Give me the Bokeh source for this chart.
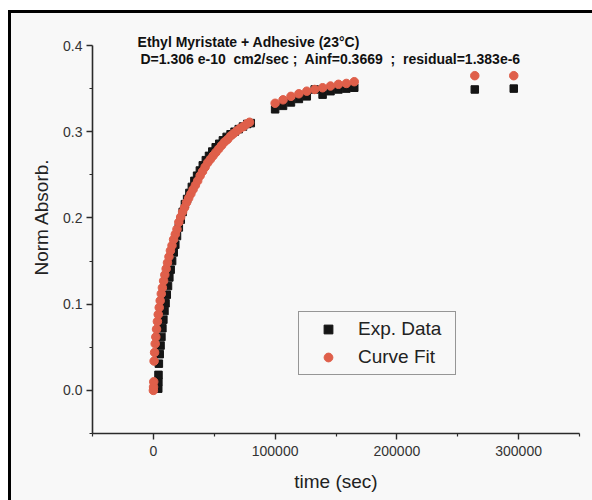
from bokeh.plotting import figure
from bokeh.models import (Range1d, FixedTicker, PrintfTickFormatter, Label, Legend,
                          LegendItem, ColumnDataSource)
from bokeh.embed import file_html
from bokeh.resources import INLINE

# ---------------- data ----------------
fit_time = [0, 150, 300, 600, 1000, 1500, 2000, 2600, 3300, 4000, 4800, 5600, 6500, 7400,
            8400, 9400, 10500, 11600, 12800, 14000, 15300, 16600, 18000, 19400, 20900,
            22400, 24000, 25600, 27300, 29000, 30800, 32600, 34500, 36400, 38400, 40400,
            42500, 44600, 46800, 49000, 51300, 53600, 56000, 58400, 60900, 63400, 66000,
            68600, 71300, 74000, 76700, 79000,
            100000, 106500, 113000, 119500, 126000, 132500, 139000, 145500, 152000,
            158500, 165000,
            264000, 296000]
fit_absorb = [0.000, 0.004, 0.010, 0.034, 0.044, 0.054, 0.062, 0.071, 0.080, 0.088, 0.096,
              0.104, 0.112, 0.119, 0.127, 0.134, 0.141, 0.148, 0.155, 0.162, 0.168, 0.175,
              0.181, 0.187, 0.195, 0.201, 0.207, 0.212, 0.218, 0.223, 0.228, 0.233, 0.238,
              0.243, 0.249, 0.254, 0.259, 0.264, 0.268, 0.272, 0.276, 0.280, 0.284, 0.288,
              0.291, 0.295, 0.298, 0.301, 0.304, 0.306, 0.309, 0.311,
              0.333, 0.337, 0.341, 0.344, 0.347, 0.349, 0.351, 0.353, 0.355, 0.356, 0.358,
              0.365, 0.365]

exp_time = [4000, 4100, 4200, 4500, 5200, 5900, 6600, 7400, 8200, 9100, 10000, 11000,
            12000, 13100, 14200, 15400, 16700, 18000, 19400, 20900, 22500, 24100, 25900,
            27700, 29600, 31600, 33700, 35900, 38200, 40600, 43100, 45700, 48400, 51200,
            54100, 57100, 60200, 63400, 66700, 70100, 73600, 77100, 80000,
            100000, 106500, 113000, 119500, 126000, 132500, 139000, 145500, 152000,
            158500, 165000,
            264000, 296000]
exp_absorb = [0.002, 0.010, 0.018, 0.031, 0.042, 0.052, 0.062, 0.072, 0.082, 0.092, 0.101,
              0.111, 0.121, 0.131, 0.140, 0.150, 0.160, 0.169, 0.179, 0.189, 0.198, 0.207,
              0.216, 0.222, 0.229, 0.236, 0.243, 0.249, 0.255, 0.261, 0.267, 0.272, 0.277,
              0.282, 0.286, 0.290, 0.294, 0.297, 0.300, 0.303, 0.306, 0.309, 0.310,
              0.326, 0.330, 0.334, 0.338, 0.341, 0.349, 0.343, 0.347, 0.349, 0.350, 0.351,
              0.349, 0.350]

x_ticks = [0, 100000, 200000, 300000]
x_minor = [-50000, 50000, 150000, 250000, 350000]
y_ticks = [0.0, 0.1, 0.2, 0.3, 0.4]
y_minor = [-0.05, 0.05, 0.15, 0.25, 0.35]

title_line1 = "Ethyl Myristate + Adhesive (23°C)"
title_line2 = "D=1.306 e-10\u00a0 cm2/sec ;\u00a0 Ainf=0.3669\u00a0 ;\u00a0 residual=1.383e-6"

FONT = "Liberation Sans"
BG = "#f8f8f8"
RED = "#df5f4a"
BLACK = "#151515"
AX = "#2a2a2a"

# frame: left 92px, right 579px, bottom 433px; top extended to canvas top so the
# title text (drawn in data space) is not clipped; axes are bounded to the data span.
Y_LO, Y_AX_TOP = -0.05, 0.4
y_top = Y_LO + 433 * (Y_AX_TOP - Y_LO) / 388.0

p = figure(width=592, height=500, output_backend="svg", toolbar_location=None,
           x_range=Range1d(-50000, 350000), y_range=Range1d(Y_LO, y_top),
           min_border_left=92, min_border_right=13, min_border_top=0,
           min_border_bottom=67)
p.background_fill_alpha = 0
p.border_fill_alpha = 0
p.outline_line_color = None
p.xgrid.visible = False
p.ygrid.visible = False
p.styles = {
    "background": ("linear-gradient(#000,#000) 8px 10px / 3px 490px no-repeat, "
                   "linear-gradient(#000,#000) 8px 10px / 584px 3px no-repeat, "
                   "linear-gradient(#f8f8f8,#f8f8f8) 11px 13px / 581px 487px no-repeat, "
                   "#ffffff")
}

exp_src = ColumnDataSource(dict(t=exp_time, a=exp_absorb))
fit_src = ColumnDataSource(dict(t=fit_time, a=fit_absorb))
r_exp = p.scatter("t", "a", source=exp_src, marker="square", size=7.5,
                  fill_color=BLACK, line_color=BLACK)
r_fit = p.scatter("t", "a", source=fit_src, marker="circle", size=8.5,
                  fill_color=RED, line_color=RED)

for ax in (p.xaxis[0], p.yaxis[0]):
    ax.axis_line_color = AX
    ax.axis_line_width = 1.6
    ax.major_tick_line_color = AX
    ax.minor_tick_line_color = AX
    ax.major_tick_line_width = 1.4
    ax.minor_tick_line_width = 1.2
    ax.major_tick_out = 6
    ax.major_tick_in = 0
    ax.minor_tick_out = 3
    ax.minor_tick_in = 0
    ax.major_label_text_font = FONT
    ax.major_label_text_font_size = "14px"
    ax.major_label_text_color = "#333333"
    ax.axis_label_text_font = FONT
    ax.axis_label_text_font_size = "19px"
    ax.axis_label_text_font_style = "normal"
    ax.axis_label_text_color = "#222222"

p.xaxis.ticker = FixedTicker(ticks=x_ticks, minor_ticks=x_minor)
p.yaxis.ticker = FixedTicker(ticks=y_ticks, minor_ticks=y_minor)
p.xaxis.formatter = PrintfTickFormatter(format="%d")
p.yaxis.formatter = PrintfTickFormatter(format="%.1f")
p.xaxis.bounds = (-50000, 350000)
p.yaxis.bounds = (Y_LO, Y_AX_TOP)
p.xaxis.axis_label = "time (sec)"
p.yaxis.axis_label = "Norm Absorb."
p.xaxis.major_label_standoff = 6
p.yaxis.major_label_standoff = 4
p.xaxis.axis_label_standoff = 12
p.yaxis.axis_label_standoff = 8

# title lines (data coordinates, above the curve)
p.add_layout(Label(x=-13000, y=0.4035, text=title_line1, text_font=FONT,
                   text_font_size="14px", text_font_style="bold", text_color="#111111",
                   text_baseline="middle", text_align="left"))
p.add_layout(Label(x=-10600, y=0.3838, text=title_line2, text_font=FONT,
                   text_font_size="14px", text_font_style="bold", text_color="#111111",
                   text_baseline="middle", text_align="left"))

legend = Legend(items=[LegendItem(label="Exp. Data", renderers=[r_exp]),
                       LegendItem(label="Curve Fit", renderers=[r_fit])],
                location=(206, 58))
legend.border_line_color = "#333333"
legend.border_line_width = 1
legend.background_fill_color = BG
legend.background_fill_alpha = 1
legend.label_text_font = FONT
legend.label_text_font_size = "19px"
legend.label_text_color = "#222222"
legend.padding = 6
legend.margin = 0
legend.glyph_width = 46
legend.glyph_height = 22
legend.label_height = 22
legend.label_width = 91
legend.label_standoff = 7
legend.spacing = 6
p.add_layout(legend)

open("out.html", "w").write(file_html(p, INLINE))
